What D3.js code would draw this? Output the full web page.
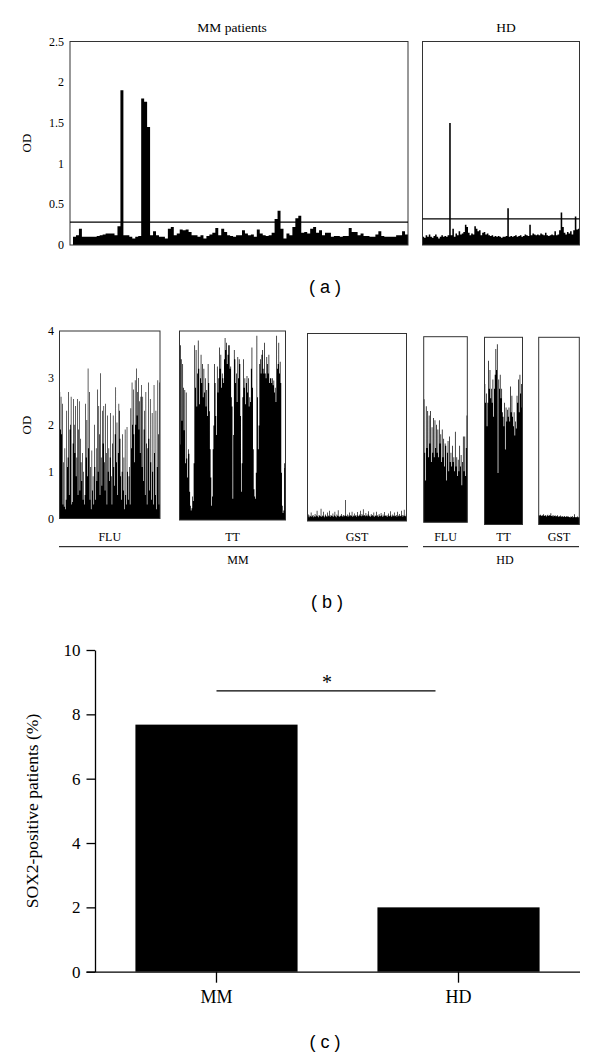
<!DOCTYPE html>
<html>
<head>
<meta charset="utf-8">
<script src="https://cdn.jsdelivr.net/npm/d3@7/dist/d3.min.js"></script>
<style>
  body { margin: 0; background: #fff; }
  text { font-family: "Liberation Serif", "Times New Roman", serif; fill: #000; }
  .lab { font-family: "Liberation Sans", Arial, sans-serif; }
</style>
</head>
<body>
<div id="chart"></div>
<script>
let w = 600;
let h = 1059;

// ---------- (a) OD per patient ----------
let odTicksA = [0, 0.5, 1, 1.5, 2, 2.5];
let odMM = [
  0.1, 0.12, 0.2, 0.1, 0.1, 0.1, 0.1, 0.1, 0.11, 0.12,
  0.13, 0.14, 0.14, 0.14, 0.12, 0.23, 1.9, 0.12, 0.12, 0.1,
  0.08, 0.1, 0.11, 1.8, 1.76, 1.45, 0.12, 0.17, 0.12, 0.1,
  0.1, 0.08, 0.2, 0.22, 0.12, 0.14, 0.19, 0.18, 0.19, 0.16,
  0.12, 0.12, 0.1, 0.12, 0.08, 0.11, 0.13, 0.15, 0.21, 0.12,
  0.2, 0.16, 0.12, 0.11, 0.1, 0.12, 0.12, 0.18, 0.14, 0.12,
  0.13, 0.1, 0.19, 0.14, 0.12, 0.11, 0.12, 0.15, 0.32, 0.42,
  0.2, 0.08, 0.14, 0.12, 0.22, 0.33, 0.36, 0.15, 0.16, 0.14,
  0.2, 0.22, 0.15, 0.18, 0.12, 0.15, 0.15, 0.1, 0.11, 0.11,
  0.1, 0.11, 0.11, 0.21, 0.16, 0.16, 0.12, 0.14, 0.11, 0.11,
  0.1, 0.1, 0.13, 0.17, 0.11, 0.1, 0.1, 0.1, 0.1, 0.12,
  0.12, 0.17, 0.13
];
let odHD = [
  0.1, 0.09, 0.12, 0.1, 0.13, 0.1, 0.09, 0.11, 0.13, 0.1,
  0.08, 0.1, 0.12, 0.1, 0.11, 0.1, 0.12, 1.5, 0.12, 0.2,
  0.1, 0.14, 0.12, 0.17, 0.13, 0.14, 0.16, 0.25, 0.22, 0.15,
  0.12, 0.14, 0.13, 0.23, 0.2, 0.17, 0.18, 0.12, 0.15, 0.16,
  0.13, 0.14, 0.12, 0.11, 0.12, 0.1, 0.11, 0.1, 0.11, 0.1,
  0.09, 0.1, 0.1, 0.11, 0.45, 0.1, 0.11, 0.1, 0.11, 0.12,
  0.1, 0.11, 0.12, 0.1, 0.11, 0.13, 0.12, 0.11, 0.25, 0.12,
  0.14, 0.13, 0.12, 0.13, 0.12, 0.14, 0.13, 0.12, 0.15, 0.12,
  0.11, 0.12, 0.13, 0.12, 0.17, 0.12, 0.13, 0.18, 0.4, 0.22,
  0.15, 0.13, 0.16, 0.14, 0.17, 0.13, 0.18, 0.35, 0.19, 0.2
];
let cutoffMM = 0.28;
let cutoffHD = 0.32;

// ---------- (b) OD against FLU / TT / GST ----------
let odTicksB = [0, 1, 2, 3, 4];
let fluMM = [
  2.7, 1.9, 2.6, 1.8, 2.45, 0.3, 1.2, 0.25, 1.5, 0.2,
  0.4, 2.3, 1.1, 1.3, 2.7, 0.5, 1.9, 2.0, 2.6, 0.3,
  0.35, 1.6, 2.55, 2.0, 1.4, 2.4, 0.9, 1.3, 2.55, 0.5,
  1.9, 2.5, 0.6, 1.7, 1.2, 0.8, 1.4, 0.4, 1.0, 0.3,
  0.5, 2.45, 1.3, 2.1, 0.9, 3.2, 1.5, 2.7, 0.4, 1.1,
  0.2, 1.45, 0.6, 0.9, 0.3, 2.0, 1.1, 0.4, 1.5, 0.8,
  2.75, 1.0, 2.4, 1.8, 0.5, 3.1, 1.3, 0.7, 2.3, 1.6,
  2.4, 1.2, 0.6, 2.45, 1.4, 0.3, 2.2, 1.0, 1.5, 0.8,
  1.3, 2.25, 0.9, 0.3, 1.6, 2.2, 1.1, 0.7, 1.8, 2.8,
  1.2, 2.05, 0.5, 1.4, 2.45, 2.3, 1.7, 0.9, 0.4, 1.0,
  1.8, 0.6, 1.3, 0.2, 1.9, 0.5, 0.3, 1.95, 1.0, 0.4,
  0.9, 1.1, 0.3, 2.35, 1.5, 2.9, 2.0, 2.75, 1.8, 1.2,
  2.95, 2.0, 3.2, 2.2, 2.7, 3.0, 1.9, 2.5, 1.4, 2.6,
  2.85, 1.1, 2.6, 0.8, 1.9, 2.3, 0.5, 2.7, 1.6, 0.3,
  1.5, 2.9, 1.7, 0.6, 2.55, 1.2, 0.4, 2.25, 1.0, 0.3,
  2.85, 1.4, 0.5, 2.3, 0.2, 1.1, 2.95, 1.8, 0.3, 2.9
];
let ttMM = [
  1.6, 3.7, 3.4, 2.1, 3.3, 2.8, 1.9, 2.75, 1.2, 2.7,
  1.3, 0.9, 1.5, 1.4, 0.6, 0.3, 0.2, 0.25, 0.5, 0.4,
  1.2, 3.7, 2.8, 3.6, 2.4, 3.1, 3.8, 3.2, 2.45, 3.0,
  3.5, 2.9, 3.3, 2.6, 3.2, 2.7, 3.0, 2.4, 2.75, 2.2,
  3.3, 2.9, 2.3, 1.5, 0.9, 0.3, 0.5, 1.5, 2.0, 3.3,
  2.9, 2.2, 1.8, 3.25, 2.7, 3.0, 3.65, 3.2, 3.5, 2.8,
  3.1, 3.0, 2.9, 3.4, 3.85, 3.6, 3.75, 3.3, 3.5, 3.7,
  3.7, 3.2, 3.25, 2.6, 2.4, 0.45, 1.8, 3.6, 3.4, 2.9,
  3.1, 2.5, 3.45, 3.0, 3.4, 3.3, 2.2, 0.6, 1.2, 2.6,
  3.4, 2.8, 3.0, 2.45, 2.9, 3.05, 2.7, 3.0, 2.4, 2.6,
  2.5, 3.2, 3.65, 2.8, 1.5, 0.65, 0.5, 0.45, 1.0, 3.9,
  2.6, 1.5, 2.0, 3.3, 3.4, 3.1, 3.5, 3.6, 3.2, 3.1,
  3.75, 3.1, 3.0, 3.45, 3.3, 3.1, 3.5, 2.9, 3.0, 3.0,
  2.9, 3.0, 2.85, 2.95, 2.7, 2.8, 2.5, 3.9, 3.2, 3.3,
  3.75, 3.1, 3.35, 2.9, 1.0, 0.3, 0.15, 0.2, 1.2, 1.1
];
let gstMM = [
  0.1, 0.14, 0.08, 0.12, 0.1, 0.18, 0.09, 0.11, 0.13, 0.08,
  0.1, 0.15, 0.09, 0.12, 0.22, 0.1, 0.08, 0.13, 0.11, 0.1,
  0.26, 0.09, 0.12, 0.1, 0.2, 0.08, 0.11, 0.14, 0.1, 0.09,
  0.18, 0.12, 0.1, 0.22, 0.09, 0.13, 0.11, 0.1, 0.16, 0.09,
  0.12, 0.2, 0.1, 0.08, 0.14, 0.11, 0.23, 0.1, 0.09, 0.12,
  0.1, 0.15, 0.11, 0.09, 0.13, 0.1, 0.12, 0.45, 0.11, 0.1,
  0.14, 0.09, 0.12, 0.18, 0.1, 0.13, 0.11, 0.2, 0.09, 0.12,
  0.1, 0.16, 0.11, 0.13, 0.09, 0.19, 0.12, 0.1, 0.14, 0.11,
  0.22, 0.1, 0.15, 0.12, 0.25, 0.11, 0.13, 0.1, 0.17, 0.12,
  0.1, 0.14, 0.21, 0.1, 0.12, 0.09, 0.15, 0.11, 0.13, 0.1,
  0.18, 0.09, 0.12, 0.11, 0.2, 0.1, 0.13, 0.09, 0.15, 0.11,
  0.1, 0.17, 0.12, 0.09, 0.14, 0.1, 0.19, 0.11, 0.12, 0.1,
  0.13, 0.09, 0.16, 0.11, 0.1, 0.21, 0.12, 0.09, 0.14, 0.1,
  0.12, 0.18, 0.1, 0.11, 0.13, 0.09, 0.2, 0.12, 0.1, 0.15,
  0.11, 0.1, 0.22, 0.13, 0.09, 0.12, 0.24, 0.11, 0.1, 0.14
];
let fluHD = [
  2.65, 1.5, 0.9, 2.5, 1.6, 2.4, 1.4, 2.3, 1.7, 2.4,
  1.3, 2.05, 1.5, 2.25, 1.4, 2.2, 1.6, 2.1, 1.5, 2.0,
  1.4, 2.2, 1.7, 1.9, 1.3, 2.0, 1.4, 1.8, 1.2, 1.7,
  1.65, 0.9, 1.5, 1.75, 1.1, 1.85, 1.3, 1.5, 1.2, 1.65,
  1.3, 1.4, 1.1, 1.95, 1.2, 1.4, 1.0, 1.35, 1.1, 1.65,
  1.2, 1.45, 0.8, 1.3, 1.85, 1.1, 1.85, 1.0, 1.6, 2.3
];
let ttHD = [
  3.0, 2.6, 2.8, 2.1, 2.6, 3.5, 2.9, 3.3, 2.7, 2.9,
  2.6, 3.1, 2.3, 2.9, 3.2, 3.75, 3.3, 3.85, 1.1, 3.1,
  2.9, 3.2, 2.7, 2.9, 2.4, 2.3, 2.1, 2.6, 1.6, 2.5,
  2.2, 2.45, 2.3, 2.5, 2.2, 2.95, 2.4, 2.75, 2.3, 2.1,
  2.4, 1.9, 2.2, 2.05, 2.75, 2.6, 3.1, 2.4, 3.2, 2.8,
  3.0, 2.5
];
let gstHD = [
  0.2, 0.19, 0.21, 0.18, 0.2, 0.19, 0.22, 0.18, 0.19, 0.2,
  0.17, 0.19, 0.21, 0.18, 0.2, 0.19, 0.24, 0.18, 0.19, 0.17,
  0.2, 0.18, 0.19, 0.17, 0.18, 0.2, 0.16, 0.18, 0.17, 0.19,
  0.16, 0.18, 0.17, 0.16, 0.18, 0.17, 0.16, 0.17, 0.18, 0.16,
  0.17, 0.16, 0.15, 0.17, 0.16, 0.18, 0.15, 0.16, 0.22, 0.16,
  0.15, 0.16, 0.17, 0.15, 0.16
];

// ---------- (c) SOX2-positive patients ----------
let groupsC = ["MM", "HD"];
let pctC = [7.68, 2.0];
let ticksC = [0, 2, 4, 6, 8, 10];
let sigLevel = 8.73;


let viz = d3.select("#chart")
  .append("svg")
  .attr("width", w)
  .attr("height", h)
  .style("background-color", "#fff");


// step outline of bars, one path per panel so neighbouring bars join cleanly
function drawBars(g, values, x0, x1, yScale){
  let xScale = d3.scaleLinear().domain([0, values.length]).range([x0, x1]);
  let pts = values.map(function(v, i){ return [i, v]; });
  pts.push([values.length, values[values.length - 1]]);
  let area = d3.area()
    .curve(d3.curveStepAfter)
    .x(function(d){ return xScale(d[0]); })
    .y0(yScale(0))
    .y1(function(d){ return yScale(d[1]); });
  g.append("path").datum(pts).attr("d", area).attr("fill", "#000");
}

function frame(g, x0, x1, top, bottom){
  g.append("rect")
    .attr("x", x0).attr("y", top)
    .attr("width", x1 - x0).attr("height", bottom - top)
    .attr("fill", "none").attr("stroke", "#333").attr("stroke-width", 1);
}


// ===== panel a =====
let ga = viz.append("g");
let yA = d3.scaleLinear().domain([0, 2.5]).range([245, 41.5]);

drawBars(ga, odMM, 73, 408, yA);
frame(ga, 70, 408, 41.5, 245);
ga.append("line")
  .attr("x1", 70).attr("x2", 408)
  .attr("y1", yA(cutoffMM)).attr("y2", yA(cutoffMM))
  .attr("stroke", "#000").attr("stroke-width", 1.2);

drawBars(ga, odHD, 422.5, 579.5, yA);
frame(ga, 422.5, 579.5, 41.5, 245);
ga.append("line")
  .attr("x1", 422.5).attr("x2", 579.5)
  .attr("y1", yA(cutoffHD)).attr("y2", yA(cutoffHD))
  .attr("stroke", "#000").attr("stroke-width", 1.2);

ga.selectAll(".tickA").data(odTicksA).enter()
  .append("text")
  .attr("class", "tickA")
  .attr("x", 64)
  .attr("y", function(d){ return yA(d) + 4; })
  .attr("text-anchor", "end")
  .style("font-size", "12px")
  .text(function(d){ return d; });

ga.append("text").attr("transform", "translate(31,143) rotate(-90)")
  .attr("text-anchor", "middle").style("font-size", "13px").text("OD");
ga.append("text").attr("x", 232).attr("y", 32)
  .attr("text-anchor", "middle").style("font-size", "13.5px").text("MM patients");
ga.append("text").attr("x", 506).attr("y", 32)
  .attr("text-anchor", "middle").style("font-size", "13.5px").text("HD");
ga.append("text").attr("class", "lab").attr("x", 325).attr("y", 293)
  .attr("text-anchor", "middle").style("font-size", "18px").text("( a )");


// ===== panel b =====
let gb = viz.append("g");
let subPanels = [
  {vals: fluMM, name: "FLU", x0: 59.5,  x1: 160,   top: 331,   bottom: 518.5},
  {vals: ttMM,  name: "TT",  x0: 179.5, x1: 285.5, top: 331,   bottom: 520},
  {vals: gstMM, name: "GST", x0: 307.5, x1: 406.5, top: 333.5, bottom: 521},
  {vals: fluHD, name: "FLU", x0: 423.7, x1: 467.3, top: 336.7, bottom: 522.3},
  {vals: ttHD,  name: "TT",  x0: 484.5, x1: 522.5, top: 337.3, bottom: 524.5},
  {vals: gstHD, name: "GST", x0: 538.7, x1: 579.3, top: 337.3, bottom: 524.5}
];

subPanels.forEach(function(p){
  let yS = d3.scaleLinear().domain([0, 4]).range([p.bottom, p.top]);
  drawBars(gb, p.vals, p.x0, p.x1, yS);
  frame(gb, p.x0, p.x1, p.top, p.bottom);
  gb.append("text")
    .attr("x", (p.x0 + p.x1) / 2).attr("y", 540.5)
    .attr("text-anchor", "middle").style("font-size", "12px")
    .text(p.name);
});

let yB = d3.scaleLinear().domain([0, 4]).range([subPanels[0].bottom, subPanels[0].top]);
gb.selectAll(".tickB").data(odTicksB).enter()
  .append("text")
  .attr("class", "tickB")
  .attr("x", 54)
  .attr("y", function(d){ return yB(d) + 4; })
  .attr("text-anchor", "end")
  .style("font-size", "12px")
  .text(function(d){ return d; });

gb.append("text").attr("transform", "translate(31,425) rotate(-90)")
  .attr("text-anchor", "middle").style("font-size", "13px").text("OD");

// group brackets
[{name: "MM", x0: 59, x1: 408, tx: 238}, {name: "HD", x0: 423, x1: 579, tx: 505}].forEach(function(gr){
  gb.append("line").attr("x1", gr.x0).attr("x2", gr.x1)
    .attr("y1", 546.7).attr("y2", 546.7)
    .attr("stroke", "#000").attr("stroke-width", 1);
  gb.append("text").attr("x", gr.tx).attr("y", 564)
    .attr("text-anchor", "middle").style("font-size", "12px").text(gr.name);
});
gb.append("text").attr("class", "lab").attr("x", 327).attr("y", 608)
  .attr("text-anchor", "middle").style("font-size", "18px").text("( b )");


// ===== panel c =====
let gc = viz.append("g");
let xC = d3.scaleBand().domain(groupsC).range([95, 580]).paddingInner(0.33).paddingOuter(0.167);
let yC = d3.scaleLinear().domain([0, 10]).range([971.7, 650]);

gc.selectAll(".barC").data(pctC).enter()
  .append("rect")
  .attr("class", "barC")
  .attr("x", function(d, i){ return xC(groupsC[i]); })
  .attr("y", function(d){ return yC(d); })
  .attr("width", xC.bandwidth())
  .attr("height", function(d){ return yC(0) - yC(d); })
  .attr("fill", "#000");

let yAxisC = gc.append("g")
  .attr("transform", "translate(95,0)")
  .call(d3.axisLeft(yC).tickValues(ticksC).tickSize(8.5).tickSizeOuter(0).tickPadding(6));
yAxisC.selectAll("text")
  .style("font-family", "'Liberation Serif', serif")
  .style("font-size", "17px");

let xAxisC = gc.append("g")
  .attr("transform", "translate(0," + yC(0) + ")")
  .call(d3.axisBottom(xC).tickSize(11).tickSizeOuter(0).tickPadding(8));
xAxisC.select(".domain").attr("d", "M86.5,0.5H580");
xAxisC.selectAll("text")
  .style("font-family", "'Liberation Serif', serif")
  .style("font-size", "18px");
gc.selectAll(".domain, .tick line").attr("stroke", "#000").attr("stroke-width", 1.3);

gc.append("text")
  .attr("transform", "translate(38,811) rotate(-90)")
  .attr("text-anchor", "middle").style("font-size", "17.5px")
  .text("SOX2-positive patients (%)");

// significance bar
gc.append("line")
  .attr("x1", xC("MM") + xC.bandwidth() / 2).attr("x2", 435.5)
  .attr("y1", yC(sigLevel)).attr("y2", yC(sigLevel))
  .attr("stroke", "#000").attr("stroke-width", 1.3);
gc.append("text").attr("x", 327).attr("y", 689)
  .attr("text-anchor", "middle").style("font-size", "20px").text("*");

gc.append("text").attr("class", "lab").attr("x", 325).attr("y", 1048)
  .attr("text-anchor", "middle").style("font-size", "18px").text("( c )");
</script>
</body>
</html>
